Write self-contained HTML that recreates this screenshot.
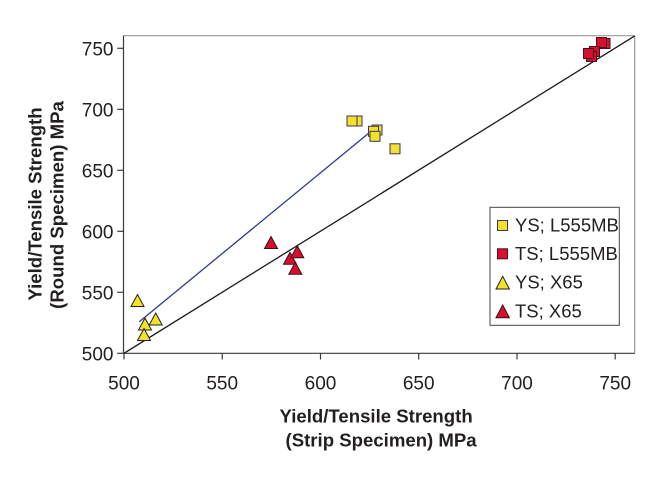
<!DOCTYPE html>
<html>
<head>
<meta charset="utf-8">
<style>
html,body{margin:0;padding:0;background:#fff;}
svg{display:block;}
text{font-family:"Liberation Sans",Arial,sans-serif;fill:#231f20;}
</style>
</head>
<body>
<svg width="665" height="480" viewBox="0 0 665 480" xmlns="http://www.w3.org/2000/svg">
  <rect x="0" y="0" width="665" height="480" fill="#fff"/>
  <!-- frame -->
  <line x1="123.5" y1="35.7" x2="634.7" y2="35.7" stroke="#9a9a9a" stroke-width="1.2"/>
  <line x1="634.7" y1="35.7" x2="634.7" y2="353.3" stroke="#9a9a9a" stroke-width="1.2"/>
  <line x1="123.5" y1="35.7" x2="123.5" y2="353.3" stroke="#3a3a3a" stroke-width="1.2"/>
  <line x1="123.5" y1="353.3" x2="634.7" y2="353.3" stroke="#3a3a3a" stroke-width="1.2"/>
  <!-- y ticks -->
  <g stroke="#3a3a3a" stroke-width="1.2">
    <line x1="117.3" y1="48.3" x2="123.5" y2="48.3"/>
    <line x1="117.3" y1="109.3" x2="123.5" y2="109.3"/>
    <line x1="117.3" y1="170.3" x2="123.5" y2="170.3"/>
    <line x1="117.3" y1="231.3" x2="123.5" y2="231.3"/>
    <line x1="117.3" y1="292.3" x2="123.5" y2="292.3"/>
    <line x1="117.3" y1="353.3" x2="123.5" y2="353.3"/>
    <line x1="124" y1="353.3" x2="124" y2="359.5"/>
    <line x1="222.2" y1="353.3" x2="222.2" y2="359.5"/>
    <line x1="320.5" y1="353.3" x2="320.5" y2="359.5"/>
    <line x1="418.7" y1="353.3" x2="418.7" y2="359.5"/>
    <line x1="517" y1="353.3" x2="517" y2="359.5"/>
    <line x1="615.2" y1="353.3" x2="615.2" y2="359.5"/>
  </g>
  <!-- y tick labels -->
  <g font-size="19" text-anchor="end">
    <text x="113.5" y="55.3">750</text>
    <text x="113.5" y="116.3">700</text>
    <text x="113.5" y="177.3">650</text>
    <text x="113.5" y="238.3">600</text>
    <text x="113.5" y="299.3">550</text>
    <text x="113.5" y="360.3">500</text>
  </g>
  <!-- x tick labels -->
  <g font-size="19" text-anchor="middle">
    <text x="124" y="389.5">500</text>
    <text x="222.2" y="389.5">550</text>
    <text x="320.5" y="389.5">600</text>
    <text x="418.7" y="389.5">650</text>
    <text x="517" y="389.5">700</text>
    <text x="615.2" y="389.5">750</text>
  </g>
  <!-- axis titles -->
  <g font-size="18.6" font-weight="bold">
    <text x="279.5" y="422.3">Yield/Tensile Strength</text>
    <text x="285.5" y="446.5">(Strip Specimen) MPa</text>
  </g>
  <g font-size="18.6" font-weight="bold" text-anchor="middle">
    <text transform="translate(41.7,204) rotate(-90)">Yield/Tensile Strength</text>
    <text transform="translate(63.5,205) rotate(-90)">(Round Specimen) MPa</text>
  </g>
  <!-- lines -->
  <line x1="124" y1="353.3" x2="634.7" y2="35.9" stroke="#1a1a1a" stroke-width="1.3"/>
  <line x1="139.3" y1="321.7" x2="372" y2="130.5" stroke="#2e3a8f" stroke-width="1.3"/>
  <!-- yellow squares YS L555MB -->
  <g fill="#f4e12a" stroke="#3a3468" stroke-width="1">
    <rect x="352" y="116" width="10" height="10"/>
    <rect x="347" y="116" width="10" height="10"/>
    <rect x="372" y="125" width="10" height="10"/>
    <rect x="368.5" y="126.3" width="10" height="10"/>
    <rect x="370" y="131.3" width="10" height="10"/>
    <rect x="390" y="143.8" width="10" height="10"/>
  </g>
  <!-- red squares TS L555MB -->
  <g fill="#d7102f" stroke="#4a1020" stroke-width="1">
    <rect x="600" y="38.5" width="10" height="10"/>
    <rect x="596.5" y="37.5" width="10" height="10"/>
    <rect x="589.5" y="46.5" width="10" height="10"/>
    <rect x="586.5" y="51.5" width="10" height="10"/>
    <rect x="583.5" y="48.5" width="10" height="10"/>
  </g>
  <!-- yellow triangles YS X65 -->
  <g fill="#f4e12a" stroke="#222" stroke-width="1">
    <polygon points="137.5,294.5 144,306.5 131,306.5"/>
    <polygon points="145,318 151.5,330 138.5,330"/>
    <polygon points="155.7,313 162.2,325 149.2,325"/>
    <polygon points="144,328.5 150.5,340.5 137.5,340.5"/>
  </g>
  <!-- red triangles TS X65 -->
  <g fill="#d7102f" stroke="#3a1018" stroke-width="1">
    <polygon points="271,236.5 277.5,248.5 264.5,248.5"/>
    <polygon points="290,252.3 296.5,264.3 283.5,264.3"/>
    <polygon points="297.3,245.7 303.8,257.7 290.8,257.7"/>
    <polygon points="295.3,262.3 301.8,274.3 288.8,274.3"/>
  </g>
  <!-- legend -->
  <rect x="490" y="207.3" width="129.3" height="118" fill="#fff" stroke="#444" stroke-width="1"/>
  <rect x="497.5" y="220.5" width="10" height="10" fill="#f4e12a" stroke="#3a3468" stroke-width="1"/>
  <rect x="497.5" y="248.8" width="10" height="10" fill="#d7102f" stroke="#4a1020" stroke-width="1"/>
  <polygon points="502.7,276.3 509.4,289 496,289" fill="#f4e12a" stroke="#222" stroke-width="1"/>
  <polygon points="502.7,305 509.4,317.7 496,317.7" fill="#d7102f" stroke="#3a1018" stroke-width="1"/>
  <g font-size="18.5">
    <text x="515" y="231.7">YS; L555MB</text>
    <text x="515" y="260">TS; L555MB</text>
    <text x="515" y="288.3">YS; X65</text>
    <text x="515" y="317.3">TS; X65</text>
  </g>
</svg>
</body>
</html>
